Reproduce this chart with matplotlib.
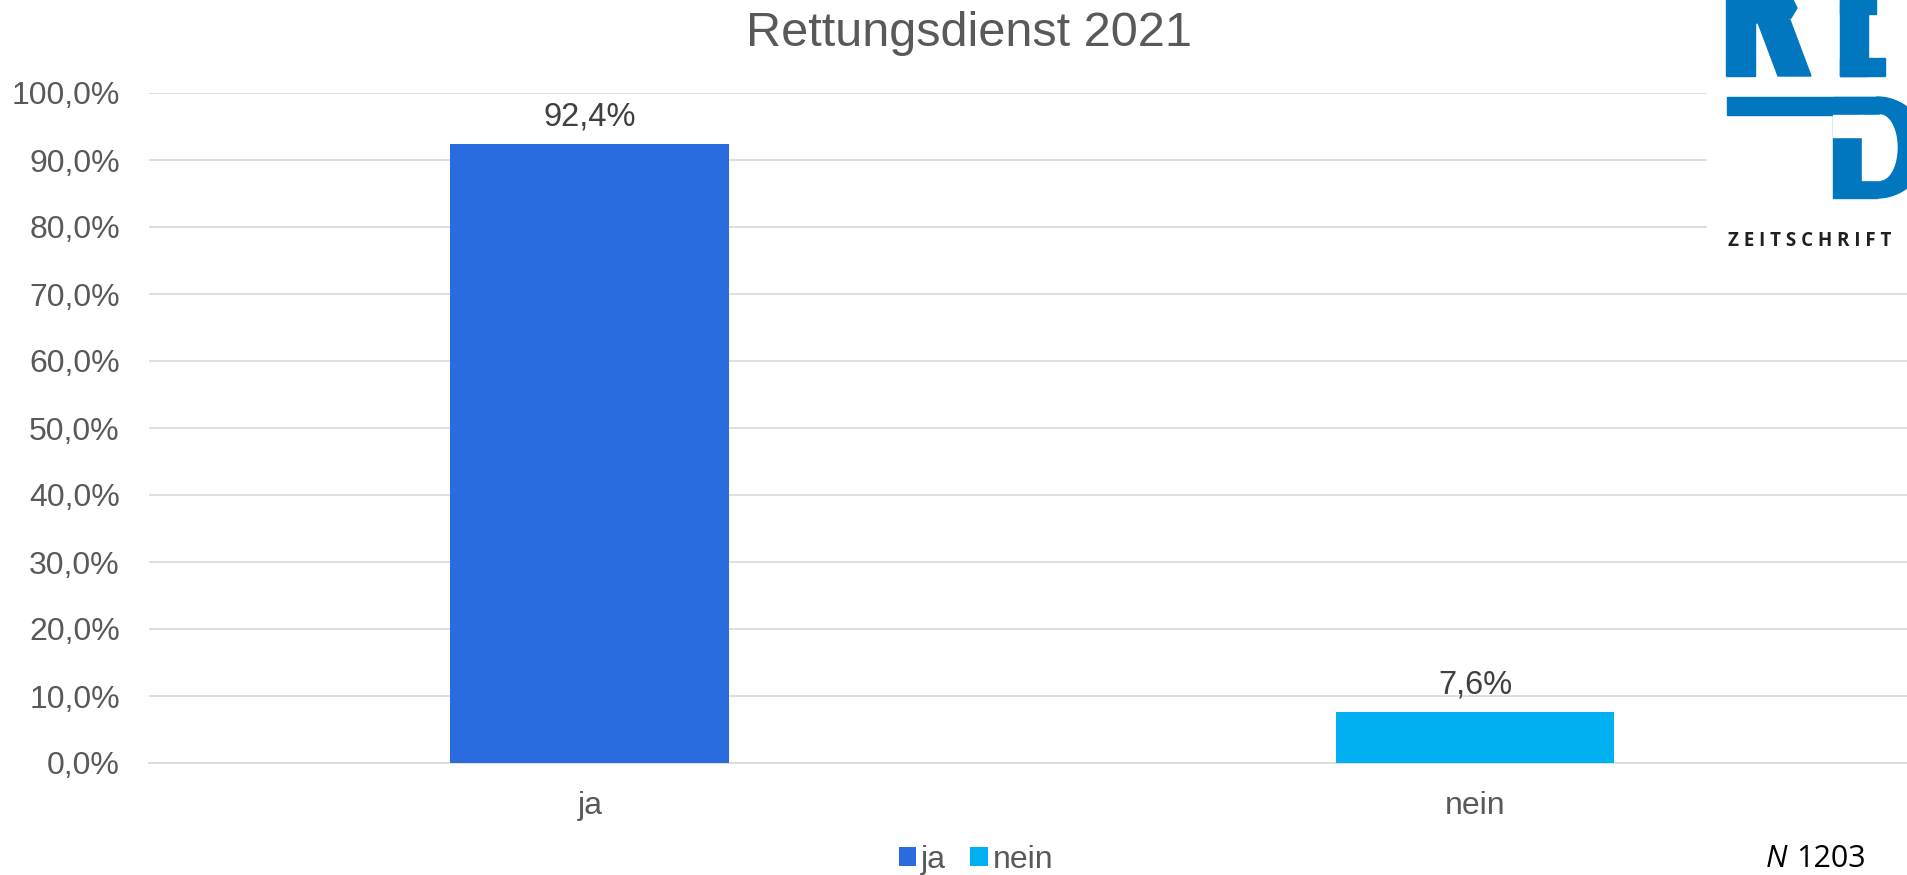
import numpy as np
import matplotlib.pyplot as plt
from matplotlib.patches import Rectangle, Polygon

plt.rcParams['font.family'] = ['Liberation Sans', 'DejaVu Sans']

# daten
kategorien = ["ja", "nein"]
werte = [92.4, 7.6]
farben = ["#2A6CDF", "#00B0F0"]
titel = "Rettungsdienst 2021"
stichprobe = "1203"
yticks = [0, 10, 20, 30, 40, 50, 60, 70, 80, 90, 100]

W, H = 1907, 875
fig = plt.figure(figsize=(W / 100, H / 100), dpi=100)
ax = fig.add_axes([149 / W, 1 - 763 / H, 1 - 149 / W, (763 - 93) / H])

x = np.arange(len(kategorien))
bars = ax.bar(x, werte, width=0.315, color=farben, zorder=3)
ax.set_xlim(-0.498, 1.488)
ax.set_ylim(0, 100)
ax.set_yticks(yticks)
ax.set_yticklabels([f"{v:.1f}%".replace(".", ",") for v in yticks])
ax.set_xticks(x)
ax.set_xticklabels(kategorien)
ax.tick_params(axis="y", length=0, pad=21, labelsize=23, labelcolor="#595959")
ax.tick_params(axis="x", length=0, pad=20, labelsize=23, labelcolor="#595959")
ax.grid(axis="y", color="#D9D9D9", lw=1.2, zorder=0)
for s in ["top", "right", "left"]:
    ax.spines[s].set_visible(False)
ax.spines["bottom"].set_color("#D9D9D9")
ax.spines["bottom"].set_linewidth(1.2)

for b, v in zip(bars, werte):
    ax.text(b.get_x() + b.get_width() / 2, v + 1.7, f"{v:.1f}%".replace(".", ","),
            ha="center", va="bottom", fontsize=23.5, color="#404040")

fig.text(969 / W, 1 - 46 / H, titel, ha="center", va="baseline", fontsize=35, color="#595959")

leg = fig.legend(handles=bars, labels=kategorien, loc="center", bbox_to_anchor=(976 / W, 1 - 860 / H),
                 ncol=2, frameon=False, fontsize=23, handlelength=0.55, handleheight=0.55,
                 handletextpad=0.15, columnspacing=0.75, borderpad=0)
for t in leg.get_texts():
    t.set_color("#595959")

fig.text(1766 / W, 1 - 867 / H, "N", fontsize=22, fontstyle="italic", family="Open Sans",
         ha="left", va="baseline", color="black")
fig.text(1796 / W, 1 - 867 / H, stichprobe, fontsize=22, family="Open Sans",
         ha="left", va="baseline", color="black")

# logo oben rechts
lg = fig.add_axes([0, 0, 1, 1], zorder=10)
lg.set_xlim(0, W)
lg.set_ylim(H, 0)
lg.axis("off")
blau = "#0077BE"
lg.add_patch(Rectangle((1707, 0), 200, 285, color="white"))


def halbellipse(cx, cy, rx, ry):
    t = np.linspace(-np.pi / 2, np.pi / 2, 60)
    return list(zip(cx + rx * np.cos(t), cy + ry * np.sin(t)))


# R
lg.add_patch(Rectangle((1726, 0), 29, 76, color=blau))
lg.add_patch(Polygon([(1754, 0), (1793, 0), (1797, 8), (1791, 18), (1778, 23), (1754, 23)], color=blau))
lg.add_patch(Polygon([(1757, 20), (1790, 20), (1811, 76), (1778, 76)], color=blau))
# E
lg.add_patch(Rectangle((1840, 0), 28, 76, color=blau))
lg.add_patch(Rectangle((1840, 0), 36, 14, color=blau))
lg.add_patch(Rectangle((1840, 58), 45, 18, color=blau))
# D
lg.add_patch(Rectangle((1727, 97), 150, 18, color=blau))
lg.add_patch(Rectangle((1833, 97), 44, 101, color=blau))
lg.add_patch(Polygon(halbellipse(1877, 147.5, 50, 50.5), color=blau))
lg.add_patch(Rectangle((1833, 115), 30, 22, color="white"))
lg.add_patch(Rectangle((1862, 115), 18, 65, color="white"))
lg.add_patch(Polygon(halbellipse(1880, 147.5, 17, 32.5), color="white"))
lg.text(1728, 241, "Z E I T S C H R I F T", fontsize=13.5, fontweight="bold", family="Open Sans",
        color="#231F20", ha="left", va="center")

fig.savefig("out.png", dpi=100)
